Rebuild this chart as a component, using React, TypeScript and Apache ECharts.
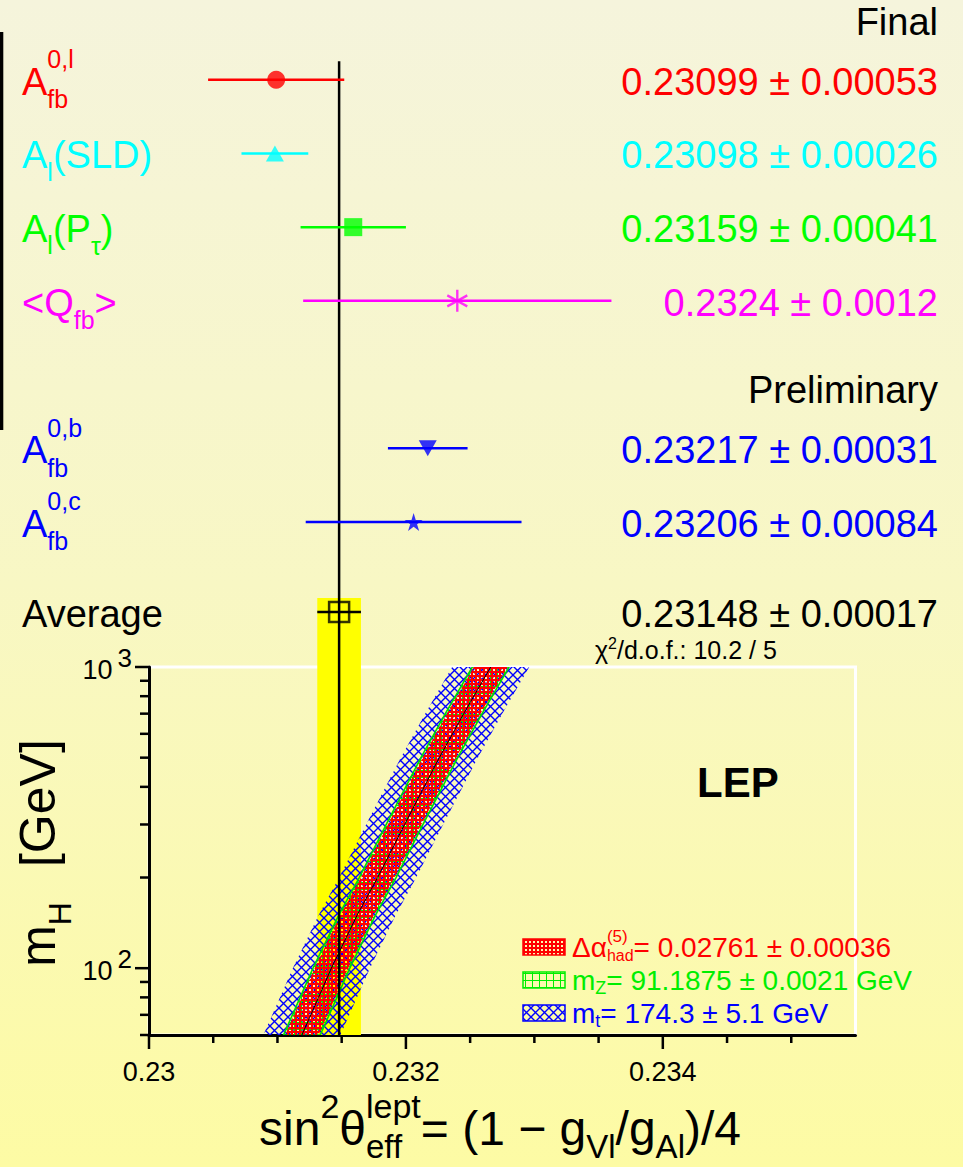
import React, { useEffect, useRef } from 'react';
import * as echarts from 'echarts';

const FONT = '"Liberation Sans", Arial, Helvetica, sans-serif';

// ---------------- Upper panel: measurements ----------------
const measurementValues = [0.23099, 0.23098, 0.23159, 0.2324, 0.23217, 0.23206, 0.23148];
const measurementErrors = [0.00053, 0.00026, 0.00041, 0.0012, 0.00031, 0.00084, 0.00017];
const measurementRows = [0, 1, 2, 3, 5, 6, 7.22];
const measurementColors = ['#ff0000', '#00ffff', '#00ff00', '#ff00ff', '#0000ff', '#0000ff', '#000000'];
const measurementTexts = [
  '0.23099 \u00b1 0.00053',
  '0.23098 \u00b1 0.00026',
  '0.23159 \u00b1 0.00041',
  '0.2324 \u00b1 0.0012',
  '0.23217 \u00b1 0.00031',
  '0.23206 \u00b1 0.00084',
  '0.23148 \u00b1 0.00017',
];
const headingTexts = ['Final', 'Preliminary'];
const headingRows = [-0.8, 4.2];
const chi2Text = '/d.o.f.: 10.2 / 5';
const AVG = 6;

// ---------------- Lower panel: SM prediction ----------------
const higgsMasses = [60, 80, 100, 150, 200, 300, 500, 700, 1000];
const sin2Prediction = [0.23119, 0.23132, 0.23142, 0.23162, 0.23178, 0.23199, 0.23226, 0.23245, 0.23266];
const halfWidthAlphaHad = 0.00013;
const halfWidthMZ = 0.000143;
const halfWidthMTop = 0.0003;

const xMin = 0.23;
const xMax = 0.2355;
const xMajorTicks = [0.23, 0.232, 0.234];
const xTickLabels = ['0.23', '0.232', '0.234'];
const xMinorTicks = [0.2305, 0.231, 0.2315, 0.2325, 0.233, 0.2335, 0.2345, 0.235];
const yMin = 60;
const yMax = 1000;
const yMajorTicks = [100, 1000];
const yMinorTicks = [60, 70, 80, 90, 200, 300, 400, 500, 600, 700, 800, 900];

const upperRowMin = -1;
const upperRowMax = 7.967;
const avgLineTopRow = -0.25;
const yellowTopRow = 7.03;

type Run = { t: string; s: number; r?: number; stack?: boolean; gap?: number; w?: string };

let measureCtx: CanvasRenderingContext2D | null = null;
function textWidth(t: string, size: number, weight = 'normal') {
  if (!measureCtx) measureCtx = document.createElement('canvas').getContext('2d');
  measureCtx!.font = `${weight} ${size}px ${FONT}`;
  return measureCtx!.measureText(t).width;
}

function placeRuns(runs: Run[], x: number, baseline: number, align: string, color: string): any[] {
  const pos: number[] = [];
  let cursor = 0;
  let pendingEnd = 0;
  for (const run of runs) {
    cursor += run.gap || 0;
    const w = textWidth(run.t, run.s, run.w);
    pos.push(cursor);
    if (run.stack) pendingEnd = Math.max(pendingEnd, cursor + w);
    else {
      cursor = Math.max(cursor + w, pendingEnd);
      pendingEnd = 0;
    }
  }
  const total = Math.max(cursor, pendingEnd);
  const start = align === 'left' ? x : align === 'right' ? x - total : x - total / 2;
  return runs.map((run, i) => ({
    type: 'text',
    x: start + pos[i],
    y: baseline - (run.r || 0) - 0.3467 * run.s,
    silent: true,
    z: 50,
    style: {
      text: run.t,
      fill: color,
      fontSize: run.s,
      fontFamily: FONT,
      fontWeight: run.w || 'normal',
      textAlign: 'left',
      textVerticalAlign: 'middle',
    },
  }));
}

const LS = 38;
const ls = 25;
const labelRuns: Run[][] = [
  [{ t: 'A', s: LS }, { t: '0,l', s: ls, r: 27, stack: true }, { t: 'fb', s: ls, r: -13 }],
  [{ t: 'A', s: LS }, { t: 'l', s: ls, r: -12 }, { t: '(SLD)', s: LS }],
  [{ t: 'A', s: LS }, { t: 'l', s: ls, r: -12 }, { t: '(P', s: LS }, { t: '\u03c4', s: ls, r: -13 }, { t: ')', s: LS }],
  [{ t: '<Q', s: LS }, { t: 'fb', s: ls, r: -13 }, { t: '>', s: LS }],
  [{ t: 'A', s: LS }, { t: '0,b', s: ls, r: 27, stack: true }, { t: 'fb', s: ls, r: -13 }],
  [{ t: 'A', s: LS }, { t: '0,c', s: ls, r: 27, stack: true }, { t: 'fb', s: ls, r: -13 }],
  [{ t: 'Average', s: LS }],
];

const legendColors = ['#ff0000', '#00ee00', '#0000ff'];
const legendRuns: Run[][] = [
  [{ t: '\u0394\u03b1', s: 28 }, { t: '(5)', s: 17, r: 14.5, stack: true }, { t: 'had', s: 16, r: -4 }, { t: '= 0.02761 \u00b1 0.00036', s: 28 }],
  [{ t: 'm', s: 28 }, { t: 'Z', s: 18, r: -4 }, { t: '= 91.1875 \u00b1 0.0021 GeV', s: 28 }],
  [{ t: 'm', s: 28 }, { t: 't', s: 18, r: -4 }, { t: '= 174.3 \u00b1 5.1 GeV', s: 28 }],
];
const legendBaselines = [957, 990, 1023];

function makePattern(kind: string) {
  const c = document.createElement('canvas');
  if (kind === 'red') {
    c.width = 4; c.height = 4;
    const g = c.getContext('2d')!;
    g.fillStyle = '#ff0000';
    g.fillRect(0, 0, 4, 4);
    g.clearRect(1, 1, 2, 2);
  } else if (kind === 'green') {
    c.width = 7; c.height = 7;
    const g = c.getContext('2d')!;
    g.fillStyle = '#00ee00';
    g.fillRect(0, 0, 7, 1);
    g.fillRect(0, 0, 1, 7);
  } else {
    c.width = 9; c.height = 9;
    const g = c.getContext('2d')!;
    g.strokeStyle = '#0000ff';
    g.lineWidth = 1.4;
    g.beginPath();
    g.moveTo(-1, -1); g.lineTo(10, 10);
    g.moveTo(-1, 10); g.lineTo(10, -1);
    g.stroke();
  }
  return { image: c, repeat: 'repeat', imageWidth: c.width, imageHeight: c.height };
}

const ASTERISK = 'path://M0,-10L0,10M-8.7,-5L8.7,5M-8.7,5L8.7,-5';
const STAR = 'path://M0,-10L2.245,-3.09L9.51,-3.09L3.633,1.18L5.878,8.09L0,3.82L-5.878,8.09L-3.633,1.18L-9.51,-3.09L-2.245,-3.09Z';
const markerSymbols = ['circle', 'triangle', 'rect', ASTERISK, 'triangle', STAR, 'rect'];
const markerSizes: any[] = [18, [18, 16], 18, [20, 22], [18, 16], 18, 20];
const markerRotations = [0, 0, 0, 0, 180, 0, 0];
const markerFilled = [true, true, true, false, true, true, false];

function buildOption(patterns: any) {
  const band = (half: number, fill: any, stroke: string | null, z: number) => ({
    type: 'custom',
    xAxisIndex: 1,
    yAxisIndex: 1,
    z,
    clip: true,
    silent: true,
    data: [[sin2Prediction[0], higgsMasses[0]]],
    renderItem: (_p: any, api: any) => {
      const left = higgsMasses.map((m, i) => api.coord([sin2Prediction[i] - half, m]));
      const right = higgsMasses.map((m, i) => api.coord([sin2Prediction[i] + half, m])).reverse();
      return {
        type: 'polygon',
        shape: { points: left.concat(right) },
        style: { fill, stroke: stroke || 'none', lineWidth: stroke ? 1.6 : 0 },
      };
    },
  });

  const tickData: number[][] = [
    ...xMajorTicks.map((v) => [v, yMin, 0]),
    ...xMinorTicks.map((v) => [v, yMin, 1]),
    ...yMajorTicks.map((v) => [xMin, v, 2]),
    ...yMinorTicks.map((v) => [xMin, v, 3]),
  ];

  return {
    animation: false,
    grid: [
      { left: 149, right: 107.5, top: 6, bottom: 1167 - 667, show: false, outerBoundsMode: 'none' },
      {
        left: 149, right: 107.5, top: 667, bottom: 132,
        show: true, borderColor: '#ffffff', borderWidth: 3, backgroundColor: 'transparent',
        outerBoundsMode: 'none',
      },
    ],
    xAxis: [
      { gridIndex: 0, type: 'value', min: xMin, max: xMax, show: false },
      {
        gridIndex: 1, type: 'value', min: xMin, max: xMax, interval: 0.002,
        axisLine: { onZero: false, lineStyle: { color: '#000', width: 3 } },
        axisTick: { show: false },
        splitLine: { show: false },
        axisLabel: {
          show: true, showMaxLabel: false, margin: 23, fontSize: 27, fontFamily: FONT, color: '#000',
          formatter: (v: number) => {
            const i = xMajorTicks.findIndex((t) => Math.abs(t - v) < 1e-9);
            return i >= 0 ? xTickLabels[i] : '';
          },
        },
      },
    ],
    yAxis: [
      { gridIndex: 0, type: 'value', min: upperRowMin, max: upperRowMax, inverse: true, show: false },
      {
        gridIndex: 1, type: 'log', logBase: 10, min: yMin, max: yMax,
        axisLine: { onZero: false, lineStyle: { color: '#000', width: 3 } },
        axisTick: { show: false },
        axisLabel: { show: false },
        splitLine: { show: false },
      },
    ],
    series: [
      {
        type: 'custom', xAxisIndex: 1, yAxisIndex: 1, z: 1, silent: true, clip: false,
        data: [[measurementValues[AVG], measurementErrors[AVG]]],
        renderItem: (_p: any, api: any) => {
          const a = api.coord([api.value(0) - api.value(1), yMax]);
          const b = api.coord([api.value(0) + api.value(1), yMin]);
          return { type: 'rect', shape: { x: a[0], y: a[1], width: b[0] - a[0], height: b[1] - a[1] }, style: { fill: '#ffff00' } };
        },
      },
      {
        type: 'custom', xAxisIndex: 0, yAxisIndex: 0, z: 1, silent: true, clip: false,
        data: [[measurementValues[AVG], measurementErrors[AVG]]],
        renderItem: (_p: any, api: any) => {
          const a = api.coord([api.value(0) - api.value(1), yellowTopRow]);
          const b = api.coord([api.value(0) + api.value(1), upperRowMax]);
          return { type: 'rect', shape: { x: a[0], y: a[1], width: b[0] - a[0], height: b[1] - a[1] }, style: { fill: '#ffff00' } };
        },
      },
      band(halfWidthMTop, patterns.blue, null, 2),
      band(halfWidthMZ, patterns.green, '#00dd00', 3),
      band(halfWidthAlphaHad, patterns.red, null, 4),
      {
        type: 'line', xAxisIndex: 1, yAxisIndex: 1, z: 5, silent: true, symbol: 'none',
        data: higgsMasses.map((m, i) => [sin2Prediction[i], m]),
        lineStyle: { color: '#000', width: 1 },
      },
      {
        type: 'line', xAxisIndex: 1, yAxisIndex: 1, z: 6, silent: true, symbol: 'none',
        data: [[measurementValues[AVG], yMin], [measurementValues[AVG], yMax]],
        lineStyle: { color: '#000', width: 2.5 },
      },
      {
        type: 'line', xAxisIndex: 0, yAxisIndex: 0, z: 6, silent: true, symbol: 'none',
        data: [[measurementValues[AVG], avgLineTopRow], [measurementValues[AVG], upperRowMax]],
        lineStyle: { color: '#000', width: 2.5 },
      },
      {
        type: 'custom', xAxisIndex: 0, yAxisIndex: 0, z: 7, silent: true, clip: false,
        data: measurementValues.map((v, i) => [v, measurementRows[i], measurementErrors[i], i]),
        renderItem: (_p: any, api: any) => {
          const v = api.value(0), r = api.value(1), e = api.value(2), i = api.value(3);
          const a = api.coord([v - e, r]);
          const b = api.coord([v + e, r]);
          return { type: 'line', shape: { x1: a[0], y1: a[1], x2: b[0], y2: b[1] }, style: { stroke: measurementColors[i], lineWidth: 2.5 } };
        },
      },
      {
        type: 'scatter', xAxisIndex: 0, yAxisIndex: 0, z: 8, silent: true,
        data: measurementValues.map((v, i) => ({
          value: [v, measurementRows[i]],
          symbol: markerSymbols[i],
          symbolSize: markerSizes[i],
          symbolRotate: markerRotations[i],
          itemStyle: markerFilled[i]
            ? { color: measurementColors[i], borderWidth: 0 }
            : { color: 'rgba(0,0,0,0)', borderColor: measurementColors[i], borderWidth: 2.5 },
        })),
      },
      {
        type: 'custom', xAxisIndex: 1, yAxisIndex: 1, z: 9, silent: true, clip: false,
        data: tickData,
        renderItem: (_p: any, api: any) => {
          const kind = api.value(2);
          const p = api.coord([api.value(0), api.value(1)]);
          const len = kind === 0 ? 14 : kind === 1 ? 8 : kind === 2 ? 14 : 9;
          const shape = kind < 2
            ? { x1: p[0], y1: p[1], x2: p[0], y2: p[1] + len }
            : { x1: p[0] - len, y1: p[1], x2: p[0], y2: p[1] };
          return { type: 'line', shape, style: { stroke: '#000', lineWidth: 2.5 } };
        },
      },
    ],
  };
}

function buildGraphics(chart: any, patterns: any) {
  const els: any[] = [];
  els.push({ type: 'rect', shape: { x: 0, y: 32, width: 3.3, height: 398 }, style: { fill: '#000' }, silent: true });

  measurementRows.forEach((row, i) => {
    const py = chart.convertToPixel({ gridIndex: 0 }, [xMin, row])[1];
    els.push(...placeRuns(labelRuns[i], 22, py + 15, 'left', measurementColors[i]));
    els.push(...placeRuns([{ t: measurementTexts[i], s: LS }], 938, py + 15, 'right', measurementColors[i]));
  });
  headingRows.forEach((row, i) => {
    const py = chart.convertToPixel({ gridIndex: 0 }, [xMin, row])[1];
    els.push(...placeRuns([{ t: headingTexts[i], s: LS }], 938, py + 14, 'right', '#000'));
  });
  const avgY = chart.convertToPixel({ gridIndex: 0 }, [xMin, measurementRows[AVG]])[1];
  els.push(...placeRuns([{ t: '\u03c7', s: 25 }, { t: '2', s: 16, r: 10 }, { t: chi2Text, s: 25 }], 595, avgY + 47, 'left', '#000'));

  yMajorTicks.forEach((v) => {
    const py = chart.convertToPixel({ gridIndex: 1 }, [xMin, v])[1];
    els.push(...placeRuns([{ t: '10', s: 27 }, { t: String(Math.round(Math.log10(v))), s: 26, r: 12, gap: 5 }], 132, py + 12, 'right', '#000'));
  });

  els.push(...placeRuns([{ t: 'LEP', s: 42, w: 'bold' }], 697, 797, 'left', '#000'));

  const legendFills = [patterns.red, patterns.green, patterns.blue];
  legendRuns.forEach((runs, i) => {
    const b = legendBaselines[i];
    els.push({
      type: 'rect', silent: true, z: 50,
      shape: { x: 523, y: b - 18, width: 42, height: 16 },
      style: { fill: legendFills[i], stroke: legendColors[i], lineWidth: 1.5 },
    });
    els.push(...placeRuns(runs, 572, b, 'left', legendColors[i]));
  });

  els.push(...placeRuns([
    { t: 'sin', s: 48 },
    { t: '2', s: 34, r: 27 },
    { t: '\u03b8', s: 48 },
    { t: 'lept', s: 34, r: 27, stack: true },
    { t: 'eff', s: 33, r: -13 },
    { t: '= (1 \u2212 g', s: 48 },
    { t: 'Vl', s: 33, r: -13 },
    { t: '/g', s: 48 },
    { t: 'Al', s: 33, r: -13 },
    { t: ')/4', s: 48 },
  ], 500, 1145, 'center', '#000'));

  els.push({
    type: 'group', x: 55, y: 853, rotation: Math.PI / 2, silent: true,
    children: placeRuns([
      { t: 'm', s: 50 },
      { t: 'H', s: 32, r: -16 },
      { t: '[GeV]', s: 50, gap: 35 },
    ], 0, 0, 'center', '#000'),
  });
  return els;
}

export default function App() {
  const ref = useRef<HTMLDivElement>(null);
  useEffect(() => {
    const chart = echarts.init(ref.current!, null, { renderer: 'svg' });
    const patterns = { red: makePattern('red'), green: makePattern('green'), blue: makePattern('blue') };
    chart.setOption(buildOption(patterns) as any);
    chart.setOption({ graphic: buildGraphics(chart, patterns) } as any);
    return () => chart.dispose();
  }, []);
  return (
    <div
      ref={ref}
      style={{
        position: 'fixed',
        left: 0,
        top: 0,
        width: 963,
        height: 1167,
        background: 'linear-gradient(to bottom, #f5f4dc 0%, #f8f7c4 50%, #fdfba4 100%)',
      }}
    />
  );
}
